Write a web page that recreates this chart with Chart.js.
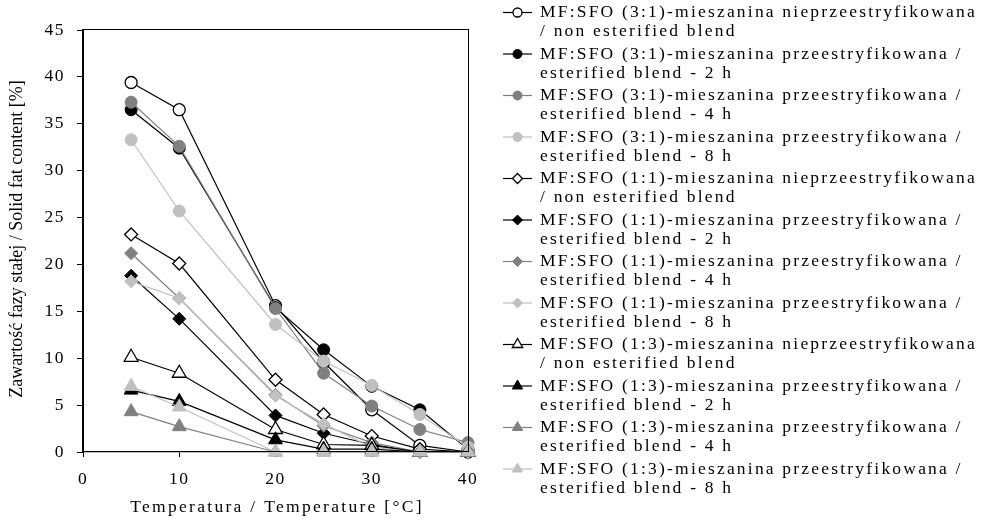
<!DOCTYPE html>
<html>
<head>
<meta charset="utf-8">
<script src="https://cdn.jsdelivr.net/npm/chart.js@4.4.0/dist/chart.umd.min.js"></script>
<style>
  html, body { margin: 0; padding: 0; background: #fff; }
  #wrap { width: 983px; height: 523px; }
</style>
</head>
<body>
<div id="wrap"><canvas id="sfc"></canvas></div>
<script>
// temperatures (°C)
const temps = [5, 10, 20, 25, 30, 35, 40];

// solid fat content [%]
const mf31Non = [39.4, 36.5, 15.6, 9.6, 4.5, 0.7, 0];
const mf31h2  = [36.5, 32.4, 15.4, 10.9, 7.0, 4.5, 0.3];
const mf31h4  = [37.3, 32.6, 15.3, 8.4, 4.9, 2.4, 1.0];
const mf31h8  = [33.3, 25.7, 13.6, 9.7, 7.1, 4.0, 0.5];
const mf11Non = [23.2, 20.1, 7.7, 4.0, 1.7, 0.3, 0];
const mf11h2  = [18.8, 14.2, 3.9, 2.0, 0.8, 0, 0];
const mf11h4  = [21.2, 16.4, 6.1, 2.8, 1.0, 0, 0];
const mf11h8  = [18.2, 16.4, 6.0, 3.0, 0.5, 0, 0];
const mf13Non = [10.1, 8.4, 2.4, 0.8, 0.7, 0, 0];
const mf13h2  = [6.6, 5.4, 1.3, 0.3, 0.3, 0, 0];
const mf13h4  = [4.3, 2.7, 0, 0, 0, 0, 0];
const mf13h8  = [7.0, 4.8, 0, 0, 0, 0, 0];

const seriesValues = [mf31Non, mf31h2, mf31h4, mf31h8, mf11Non, mf11h2, mf11h4, mf11h8, mf13Non, mf13h2, mf13h4, mf13h8];

// legend text, two lines each
const seriesNames = [
  ['MF:SFO (3:1)-mieszanina nieprzeestryfikowana', '/ non esterified blend'],
  ['MF:SFO (3:1)-mieszanina przeestryfikowana /', 'esterified blend - 2 h'],
  ['MF:SFO (3:1)-mieszanina przeestryfikowana /', 'esterified blend - 4 h'],
  ['MF:SFO (3:1)-mieszanina przeestryfikowana /', 'esterified blend - 8 h'],
  ['MF:SFO (1:1)-mieszanina nieprzeestryfikowana', '/ non esterified blend'],
  ['MF:SFO (1:1)-mieszanina przeestryfikowana /', 'esterified blend - 2 h'],
  ['MF:SFO (1:1)-mieszanina przeestryfikowana /', 'esterified blend - 4 h'],
  ['MF:SFO (1:1)-mieszanina przeestryfikowana /', 'esterified blend - 8 h'],
  ['MF:SFO (1:3)-mieszanina nieprzeestryfikowana', '/ non esterified blend'],
  ['MF:SFO (1:3)-mieszanina przeestryfikowana /', 'esterified blend - 2 h'],
  ['MF:SFO (1:3)-mieszanina przeestryfikowana /', 'esterified blend - 4 h'],
  ['MF:SFO (1:3)-mieszanina przeestryfikowana /', 'esterified blend - 8 h']
];

const yTicks = [0, 5, 10, 15, 20, 25, 30, 35, 40, 45];
const xTicks = [0, 10, 20, 30, 40];

const xTitle = 'Temperatura / Temperature [°C]';
const yTitle = 'Zawartość fazy stałej / Solid fat content [%]';

// styles
const shapes = ['circle', 'rectRot', 'triangle'];
const radii = { circle: 6, rectRot: 6.5, triangle: 8 };
const legendRadii = { circle: 4.5, rectRot: 5, triangle: 6 };
const fills = ['#ffffff', '#000000', '#808080', '#c0c0c0'];
const lines = ['#000000', '#000000', '#808080', '#c0c0c0'];
const serif = '"Liberation Serif", "Times New Roman", serif';

const datasets = seriesValues.map((vals, i) => {
  const shape = shapes[Math.floor(i / 4)];
  const k = i % 4;
  const open = k === 0;
  return {
    label: seriesNames[i].join(' '),
    data: temps.map((t, j) => ({ x: t, y: vals[j] })),
    borderColor: lines[k],
    backgroundColor: fills[k],
    borderWidth: 1.2,
    pointStyle: shape,
    pointRadius: radii[shape],
    pointHoverRadius: radii[shape],
    pointBackgroundColor: fills[k],
    pointBorderColor: open ? '#000000' : fills[k],
    pointBorderWidth: open ? 1.3 : 1,
    tension: 0,
    clip: false,
    order: 20 - i
  };
});

// frame, axis titles and the two-line legend
const extras = {
  id: 'extras',
  beforeDraw(chart) {
    chart.ctx.letterSpacing = '1.5px';
  },
  afterDraw(chart) {
    const ctx = chart.ctx;
    const a = chart.chartArea;
    ctx.save();
    ctx.strokeStyle = '#000';
    ctx.lineWidth = 1;
    ctx.strokeRect(a.left + 0.5, a.top - 0.5, a.right - a.left, a.bottom - a.top);

    ctx.fillStyle = '#000';
    ctx.font = '17.5px ' + serif;
    ctx.textBaseline = 'middle';
    ctx.textAlign = 'center';
    ctx.letterSpacing = '2.3px';
    ctx.fillText(xTitle, 277, 507);

    ctx.font = '18px ' + serif;
    ctx.letterSpacing = '0px';
    ctx.translate(17, 239);
    ctx.rotate(-Math.PI / 2);
    ctx.fillText(yTitle, 0, 0);
    ctx.restore();

    // legend
    ctx.save();
    chart.data.datasets.forEach((ds, i) => {
      const y1 = 12.5 + i * 41.5;
      const y2 = y1 + 19;
      ctx.strokeStyle = ds.borderColor;
      ctx.lineWidth = 1.2;
      ctx.beginPath();
      ctx.moveTo(503, y1);
      ctx.lineTo(532, y1);
      ctx.stroke();
      ctx.fillStyle = ds.pointBackgroundColor;
      ctx.strokeStyle = ds.pointBorderColor;
      ctx.lineWidth = ds.pointBorderWidth;
      Chart.helpers.drawPoint(ctx, {
        pointStyle: ds.pointStyle,
        radius: legendRadii[ds.pointStyle],
        rotation: 0,
        borderWidth: ds.pointBorderWidth
      }, 517.5, y1);

      ctx.fillStyle = '#000';
      ctx.font = '17.5px ' + serif;
      ctx.textAlign = 'left';
      ctx.textBaseline = 'middle';
      ctx.letterSpacing = '2.2px';
      ctx.fillText(seriesNames[i][0], 540, y1);
      ctx.fillText(seriesNames[i][1], 540, y2);
    });
    ctx.restore();
  }
};

new Chart(document.getElementById('sfc'), {
  type: 'line',
  data: { datasets: datasets },
  options: {
    responsive: true,
    maintainAspectRatio: false,
    animation: false,
    layout: { padding: { left: 0, top: 30, right: 515, bottom: 0 } },
    plugins: {
      legend: { display: false },
      tooltip: { enabled: false }
    },
    scales: {
      x: {
        type: 'linear',
        min: 0,
        max: 40,
        afterFit: s => { s.height = 71; },
        afterBuildTicks: s => { s.ticks = xTicks.map(v => ({ value: v })); },
        grid: { display: true, drawOnChartArea: false, tickLength: 5, color: '#000' },
        border: { color: '#000', width: 1.3 },
        ticks: { color: '#000', font: { family: serif, size: 17.5 }, padding: 12, maxRotation: 0 }
      },
      y: {
        min: 0,
        max: 45,
        afterFit: s => { s.width = 83; },
        afterBuildTicks: s => { s.ticks = yTicks.map(v => ({ value: v })); },
        grid: { display: true, drawOnChartArea: false, tickLength: 6, color: '#000' },
        border: { color: '#000', width: 1.6 },
        ticks: { color: '#000', font: { family: serif, size: 17.5 }, padding: 12 }
      }
    }
  },
  plugins: [extras]
});
</script>
</body>
</html>
